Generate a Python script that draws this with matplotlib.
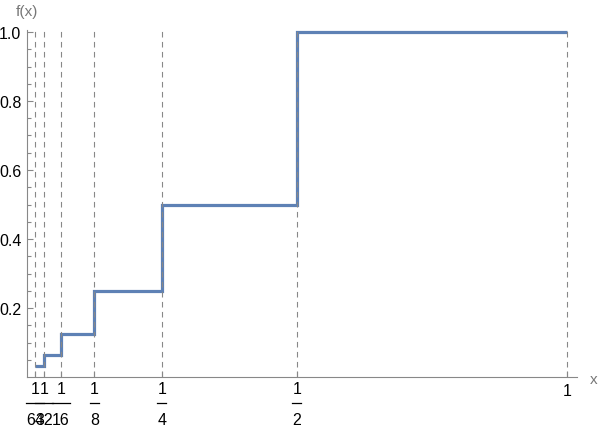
import matplotlib
matplotlib.use("Agg")
import matplotlib.pyplot as plt
import matplotlib.transforms as mtransforms

plt.rcParams['font.family'] = ['Liberation Sans', 'DejaVu Sans']

# step edges and the value of f on each interval
denominators = [64, 32, 16, 8, 4, 2, 1]
edges = [1 / d for d in denominators]
values = [1 / 32, 1 / 16, 1 / 8, 1 / 4, 1 / 2, 1.0]
y_ticks = [0.2, 0.4, 0.6, 0.8, 1.0]
y_tick_labels = ["0.2", "0.4", "0.6", "0.8", "1.0"]

line_color = "#5E81B5"
axis_color = "#888888"

fig = plt.figure(figsize=(6.0, 4.31), dpi=100)
ax = fig.add_axes([27 / 600, 53 / 431, 550 / 600, 347 / 431])
ax.set_xlim(0, 550 / 540)
ax.set_ylim(0, 347 / 345)

# dashed guide lines at each jump
ax.vlines(edges, 0, 347 / 345, colors=axis_color, linestyles=(0, (5, 4)), linewidth=0.8)

# the step function
ax.stairs(values, edges, baseline=None, color=line_color, linewidth=2.3)

# axes look
for side in ["top", "right"]:
    ax.spines[side].set_visible(False)
for side in ["left", "bottom"]:
    ax.spines[side].set_color(axis_color)
    ax.spines[side].set_linewidth(0.8)

ax.set_yticks(y_ticks)
ax.set_yticklabels(y_tick_labels)
ax.set_yticks([i * 0.05 for i in range(1, 21)], minor=True)
ax.tick_params(axis="y", which="major", direction="in", length=4.5, width=0.8,
               color=axis_color, labelsize=11.5, pad=4, labelcolor="black")
ax.tick_params(axis="y", which="minor", direction="in", length=2.8, width=0.8,
               color=axis_color)

ax.set_xticks(edges)
ax.set_xticklabels([])
ax.tick_params(axis="x", which="major", direction="in", length=4.5, width=0.8,
               color=axis_color)

# stacked fraction labels under the x axis
bar_trans = mtransforms.offset_copy(ax.transData, fig=fig, x=0, y=-26, units="dots")
for d, x in zip(denominators, edges):
    if d == 1:
        ax.annotate("1", xy=(x, 0), xytext=(0, -14), textcoords="offset pixels",
                    ha="center", va="center", fontsize=11.5)
        continue
    ax.annotate("1", xy=(x, 0), xytext=(0, -12), textcoords="offset pixels",
                ha="center", va="center", fontsize=11.5)
    ax.annotate(str(d), xy=(x, 0), xytext=(0, -43), textcoords="offset pixels",
                ha="center", va="center", fontsize=11.5)
    half = len(str(d)) * 9 / 2 / 540
    ax.plot([x - half, x + half], [0, 0], color="black", linewidth=0.9,
            transform=bar_trans, clip_on=False)

# axis labels at the ends of the axes
fig.text(27 / 600, 1 - 12 / 431, "f(x)", ha="center", va="center",
         fontsize=11, color="#777777")
fig.text(594 / 600, 1 - 380 / 431, "x", ha="center", va="center",
         fontsize=11, color="#777777")

fig.savefig("out.png", dpi=100)
